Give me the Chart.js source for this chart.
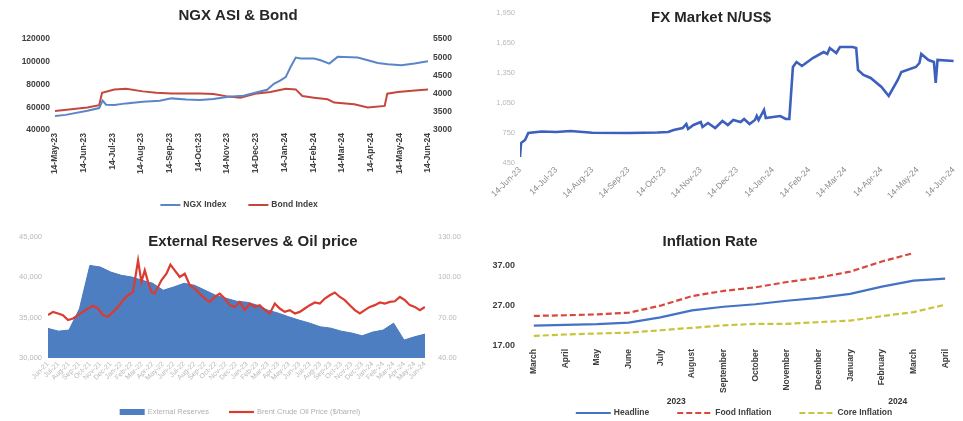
<!DOCTYPE html>
<html>
<head>
<meta charset="utf-8">
<script src="https://cdn.jsdelivr.net/npm/chart.js@4.4.1/dist/chart.umd.min.js"></script>
<style>
  html, body { margin:0; background:#fff; }
  .sheet { position:relative; width:963px; height:421px; overflow:hidden; }
  .cell { position:absolute; }
  #c1 { left:0;   top:0;   width:480px; height:215px; }
  #c2 { left:480px; top:0;   width:483px; height:215px; }
  #c3 { left:0;   top:215px; width:480px; height:206px; }
  #c4 { left:480px; top:215px; width:483px; height:206px; }
</style>
</head>
<body>
<div class="sheet">
  <div class="cell" id="c1"><canvas id="ngx"></canvas></div>
  <div class="cell" id="c2"><canvas id="fx"></canvas></div>
  <div class="cell" id="c3"><canvas id="ext"></canvas></div>
  <div class="cell" id="c4"><canvas id="infl"></canvas></div>
</div>
<script>
// ---- NGX ASI & Bond (x = months after 14-May-23) ----
const ngxLabels = ["14-May-23","14-Jun-23","14-Jul-23","14-Aug-23","14-Sep-23","14-Oct-23","14-Nov-23",
                   "14-Dec-23","14-Jan-24","14-Feb-24","14-Mar-24","14-Apr-24","14-May-24","14-Jun-24"];
const ngxT = [0,0.37,1.13,1.54,1.66,1.78,2.07,2.48,3.06,3.65,4.06,4.58,5.05,5.52,6.05,6.57,7.04,7.39,
              7.63,7.86,8.04,8.21,8.39,8.56,9.03,9.26,9.56,9.85,10.55,10.9,11.25,11.6,12.07,12.53,13.0];
const ngxIndex = [52400,53300,56900,59300,65800,62200,62000,63400,64900,65800,67800,66900,66400,67300,
                  69300,70200,73200,75300,80600,83600,86500,95400,103700,102800,102800,101300,98400,
                  104300,103700,101300,98900,97800,96900,98400,100400];
const bondT = [0,1.13,1.54,1.64,2.07,2.48,3.06,3.53,4.06,5.05,5.52,6.05,6.46,7.04,7.51,8.04,8.39,8.62,
               9.03,9.5,9.73,10.43,10.9,11.49,11.58,11.95,12.54,13.0];
const bondIndex = [3525,3617,3680,4025,4115,4134,4061,4025,4006,4006,3988,3917,3889,4006,4043,4134,4115,
                   3934,3889,3843,3753,3707,3617,3661,3998,4043,4088,4115];

// ---- FX Market N/US$ (x = months after 14-Jun-23) ----
const fxLabels = ["14-Jun-23","14-Jul-23","14-Aug-23","14-Sep-23","14-Oct-23","14-Nov-23","14-Dec-23",
                  "14-Jan-24","14-Feb-24","14-Mar-24","14-Apr-24","14-May-24","14-Jun-24"];
const fxT = [0,0.03,0.14,0.23,0.6,1.0,1.4,2.0,3.0,3.8,4.1,4.25,4.5,4.6,4.65,4.8,5.0,5.05,5.2,5.4,5.6,5.75,
             5.9,6.1,6.2,6.35,6.5,6.55,6.6,6.75,6.8,7.0,7.2,7.35,7.45,7.55,7.65,7.8,8.1,8.4,8.5,8.57,8.75,
             8.85,9.2,9.3,9.35,9.5,9.7,10.0,10.2,10.45,10.55,10.95,11.05,11.1,11.3,11.45,11.5,11.55,12.0];
const fxRate = [510,650,680,750,765,760,770,752,750,755,760,780,800,840,790,830,860,810,850,800,870,830,
                880,860,890,840,880,920,880,980,900,910,920,890,890,1410,1460,1420,1500,1560,1540,1600,1550,
                1610,1610,1600,1380,1330,1300,1210,1120,1280,1360,1410,1450,1540,1480,1460,1250,1480,1470];
const fxTicks = [450,750,1050,1350,1650,1950];

// ---- External Reserves & Oil price (x = months after Jun-21) ----
const extLabels = ["Jun-21","Jul-21","Aug-21","Sep-21","Oct-21","Nov-21","Dec-21","Jan-22","Feb-22","Mar-22",
                   "Apr-22","May-22","Jun-22","Jul-22","Aug-22","Sep-22","Oct-22","Nov-22","Dec-22","Jan-23",
                   "Feb-23","Mar-23","Apr-23","May-23","Jun-23","Jul-23","Aug-23","Sep-23","Oct-23","Nov-23",
                   "Dec-23","Jan-24","Feb-24","Mar-24","Apr-24","May-24","Jun-24"];
const reserves = [33670,33330,33460,36100,41480,41270,40650,40250,40040,39630,39260,38400,38800,39260,39010,
                  38400,37780,37410,37040,36910,36540,35930,35560,35100,34690,34320,33870,33700,33330,33090,
                  32750,33210,33460,34320,32220,32630,32960];
const oilT = [0,0.48,0.96,1.43,1.91,2.39,2.87,3.34,3.82,4.3,4.78,5.25,5.73,6.21,6.69,7.17,7.64,8.12,8.6,8.92,
              9.24,9.55,9.87,10.19,10.51,10.83,11.31,11.69,12.1,12.58,13.06,13.54,14.01,14.49,14.97,15.45,
              15.92,16.4,16.88,17.36,17.83,18.31,18.79,19.27,19.75,20.22,20.7,21.18,21.66,22.13,22.61,23.09,
              23.57,24.04,24.52,25.0,25.48,25.96,26.43,26.91,27.39,27.87,28.34,28.82,29.3,29.78,30.25,30.73,
              31.21,31.69,32.17,32.64,33.12,33.6,34.08,34.55,35.03,35.51,35.99];
const oilPrice = [71.9,74.3,73.1,71.9,68.2,69.4,71.9,74.3,76.8,78.8,76.8,71.9,70.6,74.3,78.0,83.0,86.7,89.2,
                  112.6,96.6,105.2,96.6,89.2,87.9,92.9,97.8,102.7,109.4,105.2,100.3,102.7,94.1,91.6,87.9,84.2,
                  81.7,85.4,87.9,84.2,79.3,78.0,81.7,75.6,80.5,78.0,79.3,75.6,73.1,80.5,76.8,74.3,75.6,73.1,
                  74.3,76.8,79.3,81.3,80.5,84.2,86.7,88.7,85.4,83.0,79.3,75.6,73.1,75.6,78.0,79.3,81.3,80.5,
                  81.7,82.2,85.4,83.0,79.3,78.0,75.6,78.0];

// ---- Inflation Rate ----
const inflMonths = ["March","April","May","June","July","August","September","October","November",
                    "December","January","February","March","April"];
const headline = [22.04,22.22,22.41,22.79,24.08,25.80,26.72,27.33,28.20,28.92,29.90,31.70,33.20,33.69];
const foodInfl = [24.45,24.61,24.82,25.25,26.98,29.34,30.64,31.52,32.84,33.93,35.41,37.92,40.01,null];
const coreInfl = [19.5,19.85,20.1,20.3,20.9,21.5,22.1,22.5,22.5,22.9,23.3,24.4,25.4,27.2];
const inflYears = ["2023","2024"];
const inflYearFirst = [0,10];
const inflYearLast = [9,13];
const inflTicks = [17,27,37];

// ------------------------------------------------------------
const FONT = "'Liberation Sans', Arial, sans-serif";
const pts = (xs, ys) => xs.map((x, i) => ({ x, y: ys[i] }));

const sheetTitle = {
  id: "sheetTitle",
  afterDraw(chart, _a, o) {
    if (!o.text) return;
    const ctx = chart.ctx;
    ctx.save();
    ctx.font = `bold 15px ${FONT}`;
    ctx.fillStyle = "#262626";
    ctx.textAlign = "center"; ctx.textBaseline = "middle";
    ctx.fillText(o.text, o.x, o.y);
    ctx.restore();
  }
};

const sheetLegend = {
  id: "sheetLegend",
  afterDraw(chart, _a, o) {
    if (!o.y) return;
    const ctx = chart.ctx;
    ctx.save();
    ctx.font = `${o.weight || "bold"} ${o.size || 7}px ${FONT}`;
    ctx.textBaseline = "middle";
    const items = chart.data.datasets.map(ds => ({ ds, w: o.symbol + 3 + ctx.measureText(ds.label).width }));
    const total = items.reduce((s, it) => s + it.w, 0) + o.gap * (items.length - 1);
    let x = o.cx - total / 2;
    items.forEach(({ ds, w }) => {
      if (ds.fill) {
        ctx.fillStyle = ds.backgroundColor;
        ctx.fillRect(x, o.y - 3, o.symbol, 6);
      } else {
        ctx.strokeStyle = ds.borderColor; ctx.lineWidth = ds.borderWidth;
        ctx.setLineDash(ds.borderDash || []);
        ctx.beginPath(); ctx.moveTo(x, o.y); ctx.lineTo(x + o.symbol, o.y); ctx.stroke();
        ctx.setLineDash([]);
      }
      ctx.fillStyle = o.color; ctx.textAlign = "left";
      ctx.fillText(ds.label, x + o.symbol + 3, o.y);
      x += w + o.gap;
    });
    ctx.restore();
  }
};

const yearGroups = {
  id: "yearGroups",
  afterDraw(chart, _a, o) {
    if (!o.labels) return;
    const ctx = chart.ctx, sx = chart.scales.x;
    ctx.save();
    ctx.font = `bold 8.5px ${FONT}`;
    ctx.fillStyle = "#333"; ctx.textAlign = "center"; ctx.textBaseline = "middle";
    o.labels.forEach((t, i) => {
      const cx = (sx.getPixelForValue(o.first[i]) + sx.getPixelForValue(o.last[i])) / 2;
      ctx.fillText(t, cx, o.y);
    });
    ctx.restore();
  }
};
Chart.register(sheetTitle, sheetLegend, yearGroups);

Chart.defaults.font.family = FONT;
Chart.defaults.animation = false;
Chart.defaults.plugins.legend.display = false;
Chart.defaults.plugins.tooltip.enabled = false;
Chart.defaults.elements.point.radius = 0;
Chart.defaults.elements.line.tension = 0;

const noGrid = { display: false, drawTicks: false };
const darkTick = { color: "#404040", font: { size: 8.5, weight: "bold" } };
const paleTick = { color: "#b8b8b8", font: { size: 7.5 } };

// NGX ASI & Bond
new Chart(document.getElementById("ngx"), {
  type: "line",
  data: { datasets: [
    { label: "NGX Index", data: pts(ngxT, ngxIndex), borderColor: "#5b86c6", borderWidth: 2, yAxisID: "y" },
    { label: "Bond Index", data: pts(bondT, bondIndex), borderColor: "#c4473d", borderWidth: 2, yAxisID: "y1" }
  ]},
  options: {
    responsive: true, maintainAspectRatio: false,
    layout: { padding: { top: 39, bottom: 0 } },
    scales: {
      x: { type: "linear", min: 0, max: 13, grid: noGrid, border: { display: false },
           afterFit: s => { s.height = 85; },
           ticks: { ...darkTick, stepSize: 1, autoSkip: false, minRotation: 90, maxRotation: 90, padding: 3,
                    callback: v => ngxLabels[v] } },
      y: { min: 40000, max: 120000, grid: noGrid, border: { display: false },
           afterFit: s => { s.width = 55; },
           ticks: { ...darkTick, stepSize: 20000, padding: 5, callback: v => String(v) } },
      y1: { position: "right", min: 3000, max: 5500, grid: noGrid, border: { display: false },
            afterFit: s => { s.width = 52; },
            ticks: { ...darkTick, stepSize: 500, padding: 5, callback: v => String(v) } }
    },
    plugins: {
      sheetTitle: { text: "NGX ASI & Bond", x: 238, y: 16 },
      sheetLegend: { y: 205, cx: 239, symbol: 20, gap: 22, color: "#404040", size: 8.5 }
    }
  }
});

// FX Market
new Chart(document.getElementById("fx"), {
  type: "line",
  data: { datasets: [
    { label: "N/US$", data: pts(fxT, fxRate), borderColor: "#3d5fbd", borderWidth: 2.6 }
  ]},
  options: {
    responsive: true, maintainAspectRatio: false,
    layout: { padding: { top: 13, right: 6 } },
    scales: {
      x: { type: "linear", min: 0, max: 12, grid: noGrid, border: { display: false },
           afterFit: s => { s.height = 52; },
           ticks: { ...paleTick, color: "#8a8a8a", font: { size: 8.5 }, stepSize: 1, autoSkip: false,
                    minRotation: 45, maxRotation: 45, padding: 2, callback: v => fxLabels[v] } },
      y: { min: 450, max: 1950, grid: noGrid, border: { display: false },
           afterBuildTicks: s => { s.ticks = fxTicks.map(v => ({ value: v })); },
           afterFit: s => { s.width = 40; },
           ticks: { ...paleTick, padding: 5, callback: v => v.toLocaleString("en-US") } }
    },
    plugins: { sheetTitle: { text: "FX Market N/US$", x: 231, y: 18 } }
  }
});

// External Reserves & Oil price
new Chart(document.getElementById("ext"), {
  type: "line",
  data: { datasets: [
    { label: "External Reserves", data: pts(extLabels.map((_, i) => i), reserves), fill: "start",
      backgroundColor: "#4d7ec2", borderColor: "#4a78bb", borderWidth: 1, yAxisID: "y", order: 1 },
    { label: "Brent Crude Oil Price ($/barrel)", data: pts(oilT, oilPrice), borderColor: "#dc3b30",
      borderWidth: 2.2, yAxisID: "y1", order: 0 }
  ]},
  options: {
    responsive: true, maintainAspectRatio: false,
    layout: { padding: { top: 22 } },
    scales: {
      x: { type: "linear", min: 0, max: 36, grid: noGrid, border: { display: false },
           afterFit: s => { s.height = 63; },
           ticks: { ...paleTick, font: { size: 7 }, stepSize: 1, autoSkip: false, minRotation: 45, maxRotation: 45,
                    padding: 2, callback: v => extLabels[v] } },
      y: { min: 30000, max: 45000, grid: noGrid, border: { display: false },
           afterFit: s => { s.width = 48; },
           ticks: { ...paleTick, stepSize: 5000, padding: 6, callback: v => v.toLocaleString("en-US") } },
      y1: { position: "right", min: 40, max: 130, grid: noGrid, border: { display: false },
            afterFit: s => { s.width = 55; },
            ticks: { ...paleTick, stepSize: 30, padding: 13, callback: v => v.toFixed(2) } }
    },
    plugins: {
      sheetTitle: { text: "External Reserves & Oil price", x: 253, y: 27 },
      sheetLegend: { y: 197, cx: 240, symbol: 25, gap: 20, color: "#b0b0b0", size: 7.5, weight: "normal" }
    }
  }
});

// Inflation Rate
new Chart(document.getElementById("infl"), {
  type: "line",
  data: { labels: inflMonths, datasets: [
    { label: "Headline", data: headline, borderColor: "#4472c4", borderWidth: 2.2 },
    { label: "Food Inflation", data: foodInfl, borderColor: "#d9473d", borderWidth: 2.2, borderDash: [6, 3] },
    { label: "Core Inflation", data: coreInfl, borderColor: "#c9c43a", borderWidth: 2.2, borderDash: [6, 3] }
  ]},
  options: {
    responsive: true, maintainAspectRatio: false,
    layout: { padding: { top: 30, right: 2 } },
    scales: {
      x: { offset: true, grid: { ...noGrid, offset: true }, border: { display: false },
           afterFit: s => { s.height = 75; },
           ticks: { ...darkTick, autoSkip: false, minRotation: 90, maxRotation: 90, padding: 3 } },
      y: { min: 17, max: 42, grid: noGrid, border: { display: false },
           afterBuildTicks: s => { s.ticks = inflTicks.map(v => ({ value: v })); },
           afterFit: s => { s.width = 38; },
           ticks: { ...darkTick, font: { size: 9, weight: "bold" }, padding: 3, callback: v => v.toFixed(2) } }
    },
    plugins: {
      sheetTitle: { text: "Inflation Rate", x: 230, y: 27 },
      yearGroups: { labels: inflYears, first: inflYearFirst, last: inflYearLast, y: 187 },
      sheetLegend: { y: 198, cx: 254, symbol: 35, gap: 28, color: "#404040", size: 8.5 }
    }
  }
});
</script>
</body>
</html>
